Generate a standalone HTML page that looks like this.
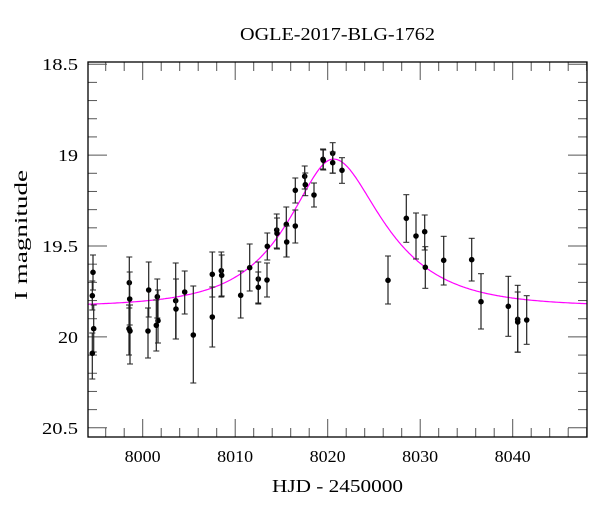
<!DOCTYPE html><html><head><style>body{margin:0;background:#fff}svg text{font-family:"Liberation Serif",serif;fill:#000}</style></head><body>
<svg id="s" width="600" height="512" xmlns="http://www.w3.org/2000/svg">
<text x="240" y="40" font-size="18" textLength="195" lengthAdjust="spacingAndGlyphs">OGLE-2017-BLG-1762</text>
<text x="272" y="492" font-size="18" textLength="131" lengthAdjust="spacingAndGlyphs">HJD - 2450000</text>
<text transform="translate(27,300) rotate(-90)" font-size="18" textLength="130" lengthAdjust="spacingAndGlyphs">I magnitude</text>
<g id="g"></g>
<rect x="88" y="62" width="499" height="375" fill="none" stroke="#000" stroke-width="1.3"/>
</svg>
<script>
var g=document.getElementById('g'),h='';
function X(t){return 142.7+(t-8000)*9.25}
function Y(m){return 64.2+(m-18.5)*181.8}
for(var t=7996;t<=8048;t+=2){var x=X(t),L=(t%10==0)?18:9;h+='<line x1="'+x+'" y1="437" x2="'+x+'" y2="'+(437-L)+'" stroke="#555"/><line x1="'+x+'" y1="62" x2="'+x+'" y2="'+(62+L)+'" stroke="#555"/>';if(t%10==0&&t>=8000&&t<=8040)h+='<text x="'+(x-18)+'" y="462" font-size="17" textLength="36" lengthAdjust="spacingAndGlyphs">'+t+'</text>';}
for(var i=0;i<=20;i++){var m=18.5+i*0.1,y=Y(m),L=(i%5==0)?19:9;h+='<line x1="88" y1="'+y+'" x2="'+(88+L)+'" y2="'+y+'" stroke="#555"/><line x1="587" y1="'+y+'" x2="'+(587-L)+'" y2="'+y+'" stroke="#555"/>';if(i%5==0){var s=String(+m.toFixed(1)),w=s.length==2?20:36;h+='<text x="'+(78-w)+'" y="'+(y+6)+'" font-size="17" textLength="'+w+'" lengthAdjust="spacingAndGlyphs">'+s+'</text>';}}
var p='';for(var x=88;x<=587;x+=1){var t=8000+(x-142.7)/9.25,t0=8020.64,tE=t<t0?8.25:9.0,u0=0.52,tau=(t-t0)/tE,u=Math.sqrt(u0*u0+tau*tau),A=(u*u+2)/(u*Math.sqrt(u*u+4)),m=19.834-2.5*Math.log10(A);p+=(x==88?'M':'L')+x+','+Y(m).toFixed(1);}
h+='<path d="'+p+'" fill="none" stroke="#f0f" stroke-width="1.2"/>';
var d=[[93,272.3,255,290],[92.3,295.7,281,310],[93.7,328.7,305,352],[92.3,353.3,333,379],[129.3,282.7,257,308],[129.7,299,272,325],[129,328.7,305,355],[130,331,305,364],[148.7,290,262,317],[148,331,308,358],[157.3,296.7,279,318],[158,320.7,290,343],[156.3,325.3,300,351],[175.7,300.7,263,339],[176,309,279,339],[184.7,292,271,314],[193.3,335,286,383],[212.3,274.3,252,297],[212.3,317,287,347],[221.3,270.7,252,297],[221.7,275.3,255,296],[240.7,295.3,271,318],[249.7,267.7,244,291],[258.3,279,262,303],[258.3,287.3,272,304],[267,280,263,297],[267.3,246.3,233,260],[276.7,230,214,248],[277,233.3,218,249],[286.3,224.3,207,257],[286.7,242,226,257],[295.3,190.3,178,203],[295.3,226,210,243],[304.7,176.3,166,189],[305.3,184.7,173,195.7],[314,195,183,207],[323,159.3,149,169],[323.3,160.3,150,170],[332.7,153.3,142.7,173.3],[332.7,162.7,152,173],[342,170.3,157.7,183.3],[388,280.3,256,304],[406.3,218.3,194.7,242.3],[416,236,213,259],[424.7,231.7,215,250],[425.3,267.3,246.7,288.3],[443.7,260.3,236.3,285],[471.7,259.7,238.3,281],[481,301.7,273.7,329],[508.3,306.3,276.3,336.3],[517.7,319.3,285.3,352.3],[517.7,322,292,352],[526.7,320,295.7,344.3]];
d.forEach(function(a){h+='<line x1="'+a[0]+'" y1="'+a[2]+'" x2="'+a[0]+'" y2="'+a[3]+'" stroke="#222" stroke-width="1.2"/><line x1="'+(a[0]-3)+'" y1="'+a[2]+'" x2="'+(a[0]+3)+'" y2="'+a[2]+'" stroke="#222"/><line x1="'+(a[0]-3)+'" y1="'+a[3]+'" x2="'+(a[0]+3)+'" y2="'+a[3]+'" stroke="#222"/><circle cx="'+a[0]+'" cy="'+a[1]+'" r="2.8" fill="#000"/>';});
g.innerHTML=h;
</script></body></html>
